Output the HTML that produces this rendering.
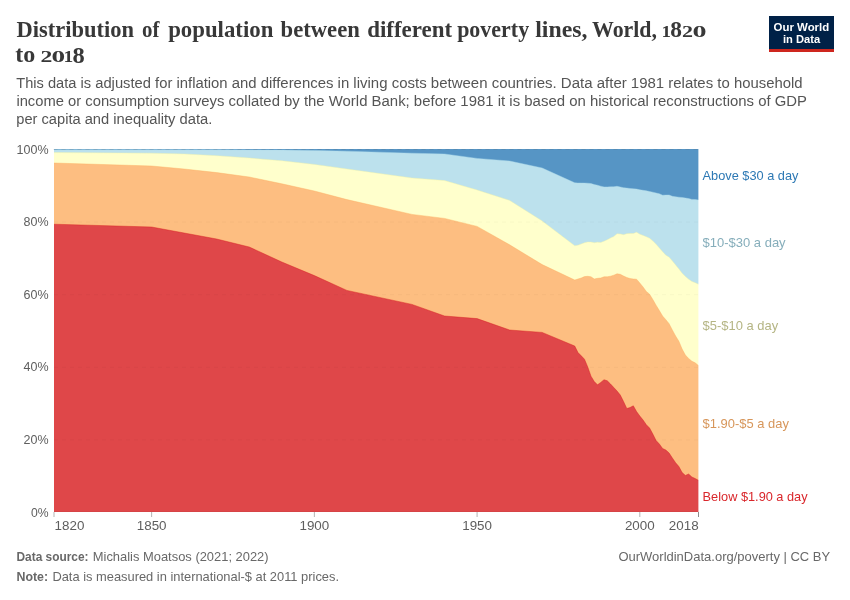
<!DOCTYPE html>
<html><head><meta charset="utf-8"><title>Distribution of population between different poverty lines</title>
<style>
html,body{margin:0;padding:0;background:#fff;}
body{width:850px;height:600px;overflow:hidden;font-family:"Liberation Sans",sans-serif;}
svg{display:block;will-change:transform;}
text{font-family:"Liberation Sans",sans-serif;}
.ax{font-size:13.6px;fill:#5e5e5e;}
.lg{font-size:13.5px;}
.title{font-family:"Liberation Serif",serif;font-weight:bold;font-size:22.5px;fill:#383838;}
.sub{font-size:14.9px;fill:#555;}
.ft{font-size:13px;fill:#686868;}
.logo{font-size:11.6px;font-weight:bold;fill:#fff;}
</style></head><body>
<svg width="850" height="600" viewBox="0 0 850 600">
<rect width="850" height="600" fill="#fff"/>
<text id="t_dist" x="16.51" y="36.50" class="title" style="font-size:22.5px" textLength="117.44" lengthAdjust="spacingAndGlyphs">Distribution</text>
<text id="t_of" x="142.03" y="36.50" class="title" style="font-size:22.5px" textLength="17.43" lengthAdjust="spacingAndGlyphs">of</text>
<text id="t_pop" x="168.18" y="36.50" class="title" style="font-size:22.5px" textLength="105.21" lengthAdjust="spacingAndGlyphs">population</text>
<text id="t_betw" x="280.54" y="36.50" class="title" style="font-size:22.5px" textLength="79.26" lengthAdjust="spacingAndGlyphs">between</text>
<text id="t_diff" x="367.17" y="36.50" class="title" style="font-size:22.5px" textLength="85.01" lengthAdjust="spacingAndGlyphs">different</text>
<text id="t_pov" x="457.15" y="36.50" class="title" style="font-size:22.5px" textLength="71.97" lengthAdjust="spacingAndGlyphs">poverty</text>
<text id="t_lines" x="535.24" y="36.50" class="title" style="font-size:22.5px" textLength="52.24" lengthAdjust="spacingAndGlyphs">lines,</text>
<text id="t_world" x="592.01" y="36.50" class="title" style="font-size:22.5px" textLength="64.91" lengthAdjust="spacingAndGlyphs">World,</text>
<text id="t_d1" x="661.57" y="36.80" class="title" style="font-size:16.8px" textLength="9.50" lengthAdjust="spacingAndGlyphs">1</text>
<text id="t_d8" x="670.33" y="36.90" class="title" style="font-size:23.0px" textLength="11.71" lengthAdjust="spacingAndGlyphs">8</text>
<text id="t_d2" x="681.92" y="36.80" class="title" style="font-size:16.8px" textLength="11.02" lengthAdjust="spacingAndGlyphs">2</text>
<text id="t_d0" x="692.47" y="36.90" class="title" style="font-size:17.6px" textLength="14.03" lengthAdjust="spacingAndGlyphs">0</text>
<text id="t_to" x="15.32" y="62.30" class="title" style="font-size:22.5px" textLength="20.03" lengthAdjust="spacingAndGlyphs">to</text>
<text id="t_e2" x="40.51" y="62.30" class="title" style="font-size:16.8px" textLength="11.84" lengthAdjust="spacingAndGlyphs">2</text>
<text id="t_e0" x="51.45" y="62.40" class="title" style="font-size:17.6px" textLength="13.64" lengthAdjust="spacingAndGlyphs">0</text>
<text id="t_e1" x="63.55" y="62.30" class="title" style="font-size:16.8px" textLength="9.76" lengthAdjust="spacingAndGlyphs">1</text>
<text id="t_e8" x="72.60" y="62.50" class="title" style="font-size:23.0px" textLength="12.23" lengthAdjust="spacingAndGlyphs">8</text>
<text id="s0_0" x="16.31" y="87.70" class="sub" textLength="27.59" lengthAdjust="spacingAndGlyphs">This</text>
<text id="s0_1" x="47.95" y="87.70" class="sub" textLength="28.52" lengthAdjust="spacingAndGlyphs">data</text>
<text id="s0_2" x="80.54" y="87.70" class="sub" textLength="10.62" lengthAdjust="spacingAndGlyphs">is</text>
<text id="s0_3" x="95.23" y="87.70" class="sub" textLength="55.75" lengthAdjust="spacingAndGlyphs">adjusted</text>
<text id="s0_4" x="155.08" y="87.70" class="sub" textLength="17.28" lengthAdjust="spacingAndGlyphs">for</text>
<text id="s0_5" x="176.46" y="87.70" class="sub" textLength="51.17" lengthAdjust="spacingAndGlyphs">inflation</text>
<text id="s0_6" x="231.75" y="87.70" class="sub" textLength="24.84" lengthAdjust="spacingAndGlyphs">and</text>
<text id="s0_7" x="260.70" y="87.70" class="sub" textLength="72.76" lengthAdjust="spacingAndGlyphs">differences</text>
<text id="s0_8" x="337.60" y="87.70" class="sub" textLength="11.64" lengthAdjust="spacingAndGlyphs">in</text>
<text id="s0_9" x="353.39" y="87.70" class="sub" textLength="34.13" lengthAdjust="spacingAndGlyphs">living</text>
<text id="s0_10" x="391.67" y="87.70" class="sub" textLength="34.99" lengthAdjust="spacingAndGlyphs">costs</text>
<text id="s0_11" x="430.81" y="87.70" class="sub" textLength="56.72" lengthAdjust="spacingAndGlyphs">between</text>
<text id="s0_12" x="491.68" y="87.70" class="sub" textLength="65.04" lengthAdjust="spacingAndGlyphs">countries.</text>
<text id="s0_13" x="560.88" y="87.70" class="sub" textLength="31.69" lengthAdjust="spacingAndGlyphs">Data</text>
<text id="s0_14" x="596.72" y="87.70" class="sub" textLength="30.00" lengthAdjust="spacingAndGlyphs">after</text>
<text id="s0_15" x="630.84" y="87.70" class="sub" textLength="33.33" lengthAdjust="spacingAndGlyphs">1981</text>
<text id="s0_16" x="668.30" y="87.70" class="sub" textLength="44.87" lengthAdjust="spacingAndGlyphs">relates</text>
<text id="s0_17" x="717.29" y="87.70" class="sub" textLength="12.46" lengthAdjust="spacingAndGlyphs">to</text>
<text id="s0_18" x="733.89" y="87.70" class="sub" textLength="68.69" lengthAdjust="spacingAndGlyphs">household</text>
<text id="s1_0" x="16.40" y="105.80" class="sub" textLength="47.53" lengthAdjust="spacingAndGlyphs">income</text>
<text id="s1_1" x="68.00" y="105.80" class="sub" textLength="13.16" lengthAdjust="spacingAndGlyphs">or</text>
<text id="s1_2" x="85.25" y="105.80" class="sub" textLength="83.95" lengthAdjust="spacingAndGlyphs">consumption</text>
<text id="s1_3" x="173.31" y="105.80" class="sub" textLength="51.17" lengthAdjust="spacingAndGlyphs">surveys</text>
<text id="s1_4" x="228.61" y="105.80" class="sub" textLength="51.30" lengthAdjust="spacingAndGlyphs">collated</text>
<text id="s1_5" x="284.02" y="105.80" class="sub" textLength="15.75" lengthAdjust="spacingAndGlyphs">by</text>
<text id="s1_6" x="303.90" y="105.80" class="sub" textLength="20.74" lengthAdjust="spacingAndGlyphs">the</text>
<text id="s1_7" x="328.75" y="105.80" class="sub" textLength="38.70" lengthAdjust="spacingAndGlyphs">World</text>
<text id="s1_8" x="371.57" y="105.80" class="sub" textLength="38.18" lengthAdjust="spacingAndGlyphs">Bank;</text>
<text id="s1_9" x="413.88" y="105.80" class="sub" textLength="42.35" lengthAdjust="spacingAndGlyphs">before</text>
<text id="s1_10" x="460.37" y="105.80" class="sub" textLength="33.24" lengthAdjust="spacingAndGlyphs">1981</text>
<text id="s1_11" x="497.75" y="105.80" class="sub" textLength="7.48" lengthAdjust="spacingAndGlyphs">it</text>
<text id="s1_12" x="509.37" y="105.80" class="sub" textLength="10.80" lengthAdjust="spacingAndGlyphs">is</text>
<text id="s1_13" x="524.31" y="105.80" class="sub" textLength="40.72" lengthAdjust="spacingAndGlyphs">based</text>
<text id="s1_14" x="569.16" y="105.80" class="sub" textLength="16.63" lengthAdjust="spacingAndGlyphs">on</text>
<text id="s1_15" x="589.91" y="105.80" class="sub" textLength="58.92" lengthAdjust="spacingAndGlyphs">historical</text>
<text id="s1_16" x="652.96" y="105.80" class="sub" textLength="101.07" lengthAdjust="spacingAndGlyphs">reconstructions</text>
<text id="s1_17" x="758.14" y="105.80" class="sub" textLength="12.43" lengthAdjust="spacingAndGlyphs">of</text>
<text id="s1_18" x="774.69" y="105.80" class="sub" textLength="32.23" lengthAdjust="spacingAndGlyphs">GDP</text>
<text id="s2_0" x="16.35" y="123.90" class="sub" textLength="21.14" lengthAdjust="spacingAndGlyphs">per</text>
<text id="s2_1" x="41.54" y="123.90" class="sub" textLength="39.10" lengthAdjust="spacingAndGlyphs">capita</text>
<text id="s2_2" x="84.68" y="123.90" class="sub" textLength="24.52" lengthAdjust="spacingAndGlyphs">and</text>
<text id="s2_3" x="113.26" y="123.90" class="sub" textLength="62.22" lengthAdjust="spacingAndGlyphs">inequality</text>
<text id="s2_4" x="179.57" y="123.90" class="sub" textLength="32.85" lengthAdjust="spacingAndGlyphs">data.</text>
<rect x="769" y="16" width="65" height="33" fill="#002147"/>
<rect x="769" y="49" width="65" height="3" fill="#CE261E"/>
<text x="773.6" y="30.5" class="logo" textLength="55.6" lengthAdjust="spacingAndGlyphs">Our World</text>
<text x="783" y="42.7" class="logo" textLength="37.2" lengthAdjust="spacingAndGlyphs">in Data</text>
<rect x="54.00" y="149.00" width="650.40" height="363.00" fill="#5695C5"/>
<path d="M54.00,512.00L54.00,149.70L151.64,149.70L184.18,149.80L216.73,149.80L249.27,149.90L281.82,150.10L314.36,150.40L346.91,151.20L412.00,153.20L444.55,154.00L477.09,158.40L509.64,161.00L542.18,168.00L574.73,182.80L577.98,183.00L581.24,183.00L584.49,183.10L587.75,183.20L591.00,183.60L594.25,184.60L597.51,185.20L600.76,186.20L604.02,186.90L607.27,186.90L610.53,186.80L613.78,186.70L617.04,186.30L620.29,187.00L623.55,187.70L626.80,188.10L630.05,188.50L633.31,188.80L636.56,189.10L639.82,189.80L643.07,190.30L646.33,190.80L649.58,191.50L652.84,192.20L656.09,193.00L659.35,193.80L662.60,195.20L665.85,195.10L669.11,195.00L672.36,196.30L675.62,196.80L678.87,197.20L682.13,197.50L685.38,198.00L688.64,198.60L691.89,199.40L695.15,199.50L698.40,200.00L704.40,200.00L704.40,512.00Z" fill="#BCE1ED"/>
<path d="M54.00,512.00L54.00,152.60L151.64,153.20L184.18,154.00L216.73,155.70L249.27,158.00L281.82,160.80L314.36,164.40L346.91,169.00L412.00,178.00L444.55,180.60L477.09,190.00L509.64,200.40L542.18,221.00L574.73,245.80L577.98,245.20L581.24,244.00L584.49,242.80L587.75,242.00L591.00,242.10L594.25,242.70L597.51,242.20L600.76,242.50L604.02,241.20L607.27,239.80L610.53,238.00L613.78,236.60L617.04,233.80L620.29,234.00L623.55,234.70L626.80,233.70L630.05,233.50L633.31,233.60L636.56,232.20L639.82,234.20L643.07,235.40L646.33,236.80L649.58,238.30L652.84,241.00L656.09,244.30L659.35,248.00L662.60,251.80L665.85,255.20L669.11,257.20L672.36,261.00L675.62,265.00L678.87,269.00L682.13,273.30L685.38,276.50L688.64,279.30L691.89,281.50L695.15,282.70L698.40,284.30L704.40,284.30L704.40,512.00Z" fill="#FFFFCC"/>
<path d="M54.00,512.00L54.00,163.00L151.64,166.00L184.18,169.00L216.73,172.60L249.27,177.00L281.82,183.80L314.36,191.00L346.91,199.60L412.00,214.40L444.55,218.40L477.09,226.40L509.64,244.80L542.18,264.60L574.73,280.00L577.98,279.00L581.24,278.00L584.49,276.60L587.75,276.30L591.00,276.80L594.25,279.00L597.51,278.30L600.76,278.00L604.02,276.80L607.27,276.80L610.53,276.20L613.78,275.20L617.04,273.80L620.29,274.30L623.55,276.00L626.80,277.50L630.05,278.50L633.31,279.00L636.56,279.20L639.82,283.00L643.07,287.00L646.33,291.50L649.58,294.20L652.84,299.50L656.09,305.20L659.35,310.50L662.60,316.00L665.85,319.70L669.11,323.70L672.36,330.00L675.62,336.00L678.87,341.20L682.13,349.00L685.38,355.00L688.64,358.50L691.89,361.20L695.15,362.80L698.40,365.50L704.40,365.50L704.40,512.00Z" fill="#FDBE81"/>
<path d="M54.00,512.00L54.00,224.20L151.64,227.00L184.18,233.00L216.73,239.00L249.27,247.00L281.82,262.00L314.36,275.60L346.91,290.40L412.00,304.40L444.55,316.00L477.09,318.60L509.64,330.00L542.18,332.40L574.73,346.00L577.98,352.50L581.24,355.80L584.49,359.20L587.75,367.00L591.00,376.20L594.25,381.50L597.51,384.80L600.76,382.40L604.02,379.70L607.27,380.80L610.53,384.00L613.78,387.50L617.04,391.00L620.29,395.00L623.55,401.50L626.80,408.50L630.05,407.50L633.31,405.80L636.56,411.50L639.82,416.00L643.07,420.00L646.33,424.70L649.58,428.00L652.84,434.00L656.09,440.50L659.35,444.00L662.60,448.50L665.85,450.00L669.11,453.00L672.36,458.00L675.62,462.70L678.87,466.50L682.13,472.50L685.38,475.40L688.64,474.00L691.89,477.00L695.15,478.50L698.40,480.30L704.40,480.30L704.40,512.00Z" fill="#DF4749"/>
<path d="M54.00,149.70L151.64,149.70L184.18,149.80L216.73,149.80L249.27,149.90L281.82,150.10L314.36,150.40L346.91,151.20L412.00,153.20L444.55,154.00L477.09,158.40L509.64,161.00L542.18,168.00L574.73,182.80L577.98,183.00L581.24,183.00L584.49,183.10L587.75,183.20L591.00,183.60L594.25,184.60L597.51,185.20L600.76,186.20L604.02,186.90L607.27,186.90L610.53,186.80L613.78,186.70L617.04,186.30L620.29,187.00L623.55,187.70L626.80,188.10L630.05,188.50L633.31,188.80L636.56,189.10L639.82,189.80L643.07,190.30L646.33,190.80L649.58,191.50L652.84,192.20L656.09,193.00L659.35,193.80L662.60,195.20L665.85,195.10L669.11,195.00L672.36,196.30L675.62,196.80L678.87,197.20L682.13,197.50L685.38,198.00L688.64,198.60L691.89,199.40L695.15,199.50L698.40,200.00L704.40,200.00" fill="none" stroke="#abd9e9" stroke-width="0.6" stroke-opacity="0.7"/>
<path d="M54.00,152.60L151.64,153.20L184.18,154.00L216.73,155.70L249.27,158.00L281.82,160.80L314.36,164.40L346.91,169.00L412.00,178.00L444.55,180.60L477.09,190.00L509.64,200.40L542.18,221.00L574.73,245.80L577.98,245.20L581.24,244.00L584.49,242.80L587.75,242.00L591.00,242.10L594.25,242.70L597.51,242.20L600.76,242.50L604.02,241.20L607.27,239.80L610.53,238.00L613.78,236.60L617.04,233.80L620.29,234.00L623.55,234.70L626.80,233.70L630.05,233.50L633.31,233.60L636.56,232.20L639.82,234.20L643.07,235.40L646.33,236.80L649.58,238.30L652.84,241.00L656.09,244.30L659.35,248.00L662.60,251.80L665.85,255.20L669.11,257.20L672.36,261.00L675.62,265.00L678.87,269.00L682.13,273.30L685.38,276.50L688.64,279.30L691.89,281.50L695.15,282.70L698.40,284.30L704.40,284.30" fill="none" stroke="#f4f4a8" stroke-width="0.6" stroke-opacity="0.7"/>
<path d="M54.00,163.00L151.64,166.00L184.18,169.00L216.73,172.60L249.27,177.00L281.82,183.80L314.36,191.00L346.91,199.60L412.00,214.40L444.55,218.40L477.09,226.40L509.64,244.80L542.18,264.60L574.73,280.00L577.98,279.00L581.24,278.00L584.49,276.60L587.75,276.30L591.00,276.80L594.25,279.00L597.51,278.30L600.76,278.00L604.02,276.80L607.27,276.80L610.53,276.20L613.78,275.20L617.04,273.80L620.29,274.30L623.55,276.00L626.80,277.50L630.05,278.50L633.31,279.00L636.56,279.20L639.82,283.00L643.07,287.00L646.33,291.50L649.58,294.20L652.84,299.50L656.09,305.20L659.35,310.50L662.60,316.00L665.85,319.70L669.11,323.70L672.36,330.00L675.62,336.00L678.87,341.20L682.13,349.00L685.38,355.00L688.64,358.50L691.89,361.20L695.15,362.80L698.40,365.50L704.40,365.50" fill="none" stroke="#fdae61" stroke-width="0.6" stroke-opacity="0.7"/>
<path d="M54.00,224.20L151.64,227.00L184.18,233.00L216.73,239.00L249.27,247.00L281.82,262.00L314.36,275.60L346.91,290.40L412.00,304.40L444.55,316.00L477.09,318.60L509.64,330.00L542.18,332.40L574.73,346.00L577.98,352.50L581.24,355.80L584.49,359.20L587.75,367.00L591.00,376.20L594.25,381.50L597.51,384.80L600.76,382.40L604.02,379.70L607.27,380.80L610.53,384.00L613.78,387.50L617.04,391.00L620.29,395.00L623.55,401.50L626.80,408.50L630.05,407.50L633.31,405.80L636.56,411.50L639.82,416.00L643.07,420.00L646.33,424.70L649.58,428.00L652.84,434.00L656.09,440.50L659.35,444.00L662.60,448.50L665.85,450.00L669.11,453.00L672.36,458.00L675.62,462.70L678.87,466.50L682.13,472.50L685.38,475.40L688.64,474.00L691.89,477.00L695.15,478.50L698.40,480.30L704.40,480.30" fill="none" stroke="#d7191c" stroke-width="0.6" stroke-opacity="0.7"/>
<rect x="698.40" y="140" width="8" height="380" fill="#fff"/>
<line x1="54.00" x2="698.40" y1="439.90" y2="439.90" stroke="#000" stroke-opacity="0.032" stroke-width="1" stroke-dasharray="4 4"/>
<line x1="54.00" x2="698.40" y1="367.30" y2="367.30" stroke="#000" stroke-opacity="0.032" stroke-width="1" stroke-dasharray="4 4"/>
<line x1="54.00" x2="698.40" y1="294.70" y2="294.70" stroke="#000" stroke-opacity="0.032" stroke-width="1" stroke-dasharray="4 4"/>
<line x1="54.00" x2="698.40" y1="222.10" y2="222.10" stroke="#000" stroke-opacity="0.032" stroke-width="1" stroke-dasharray="4 4"/>
<line x1="53.5" x2="698.40" y1="149.5" y2="149.5" stroke="#555" stroke-opacity="0.13" stroke-width="1" stroke-dasharray="4 4"/>
<line x1="54.00" x2="698.40" y1="511.5" y2="511.5" stroke="#000" stroke-opacity="0.04" stroke-width="1"/>
<text x="31.00" y="516.60" class="ax" textLength="17.6" lengthAdjust="spacingAndGlyphs">0%</text>
<text x="23.60" y="444.00" class="ax" textLength="25.0" lengthAdjust="spacingAndGlyphs">20%</text>
<text x="23.60" y="371.40" class="ax" textLength="25.0" lengthAdjust="spacingAndGlyphs">40%</text>
<text x="23.60" y="298.80" class="ax" textLength="25.0" lengthAdjust="spacingAndGlyphs">60%</text>
<text x="23.60" y="226.20" class="ax" textLength="25.0" lengthAdjust="spacingAndGlyphs">80%</text>
<text x="16.60" y="153.60" class="ax" textLength="32.0" lengthAdjust="spacingAndGlyphs">100%</text>
<line x1="54.00" x2="54.00" y1="512" y2="517" stroke="#b4b4b4" stroke-width="1"/>
<text x="54.60" y="530" class="ax" textLength="29.8" lengthAdjust="spacingAndGlyphs">1820</text>
<line x1="151.64" x2="151.64" y1="512" y2="517" stroke="#b4b4b4" stroke-width="1"/>
<text x="136.74" y="530" class="ax" textLength="29.8" lengthAdjust="spacingAndGlyphs">1850</text>
<line x1="314.36" x2="314.36" y1="512" y2="517" stroke="#b4b4b4" stroke-width="1"/>
<text x="299.46" y="530" class="ax" textLength="29.8" lengthAdjust="spacingAndGlyphs">1900</text>
<line x1="477.09" x2="477.09" y1="512" y2="517" stroke="#b4b4b4" stroke-width="1"/>
<text x="462.19" y="530" class="ax" textLength="29.8" lengthAdjust="spacingAndGlyphs">1950</text>
<line x1="639.82" x2="639.82" y1="512" y2="517" stroke="#b4b4b4" stroke-width="1"/>
<text x="624.92" y="530" class="ax" textLength="29.8" lengthAdjust="spacingAndGlyphs">2000</text>
<line x1="698.50" x2="698.50" y1="512" y2="517" stroke="#8c8c8c" stroke-width="1"/>
<text x="668.80" y="530" class="ax" textLength="29.8" lengthAdjust="spacingAndGlyphs">2018</text>
<text x="702.6" y="179.7" fill="#2C78B4" class="lg" textLength="95.8" lengthAdjust="spacingAndGlyphs">Above $30 a day</text>
<text x="702.6" y="247.0" fill="#86AEBB" class="lg" textLength="83.0" lengthAdjust="spacingAndGlyphs">$10-$30 a day</text>
<text x="702.6" y="330.1" fill="#B5B584" class="lg" textLength="75.6" lengthAdjust="spacingAndGlyphs">$5-$10 a day</text>
<text x="702.6" y="428.1" fill="#D7965A" class="lg" textLength="86.3" lengthAdjust="spacingAndGlyphs">$1.90-$5 a day</text>
<text x="702.6" y="501.1" fill="#D9262B" class="lg" textLength="105.0" lengthAdjust="spacingAndGlyphs">Below $1.90 a day</text>
<text x="16.5" y="561" class="ft" font-weight="bold" textLength="72.0" lengthAdjust="spacingAndGlyphs">Data source:</text><text x="92.8" y="561" class="ft" textLength="175.8" lengthAdjust="spacingAndGlyphs">Michalis Moatsos (2021; 2022)</text>
<text x="16.5" y="581" class="ft" font-weight="bold" textLength="31.6" lengthAdjust="spacingAndGlyphs">Note:</text><text x="52.4" y="581" class="ft" textLength="286.6" lengthAdjust="spacingAndGlyphs">Data is measured in international-$ at 2011 prices.</text>
<text x="618.4" y="561" class="ft" textLength="211.8" lengthAdjust="spacingAndGlyphs">OurWorldinData.org/poverty | CC BY</text>
</svg>
</body></html>
